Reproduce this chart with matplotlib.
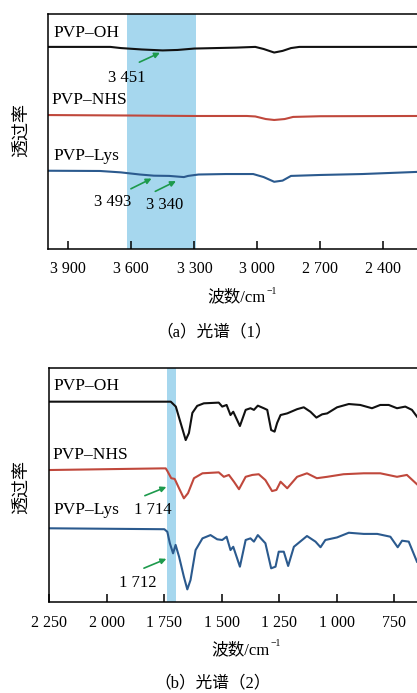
import matplotlib
matplotlib.use("Agg")
import matplotlib.pyplot as plt
from matplotlib.ticker import FuncFormatter

plt.rcParams['font.family'] = ['Liberation Serif', 'Noto Sans CJK SC']

# ---- panel (a): 4000-2240 cm-1 ----
a_oh_x = [4000, 3700, 3650, 3550, 3451, 3380, 3300, 3200, 3100, 3010, 2970, 2920, 2880, 2840, 2800, 2240]
a_oh_y = [86.0, 86.0, 85.5, 84.9, 84.5, 84.7, 85.3, 85.5, 85.7, 86.0, 85.1, 83.6, 84.3, 85.5, 86.0, 86.0]

a_nhs_x = [4000, 3600, 3300, 3050, 3010, 2960, 2920, 2870, 2830, 2700, 2240]
a_nhs_y = [57.0, 56.8, 56.6, 56.6, 56.4, 55.3, 54.9, 55.3, 56.2, 56.5, 56.6]

a_lys_x = [4000, 3750, 3650, 3560, 3493, 3420, 3350, 3330, 3280, 3150, 3020, 2970, 2920, 2880, 2840, 2700, 2500, 2240]
a_lys_y = [33.3, 33.2, 32.6, 31.7, 31.2, 31.1, 30.6, 31.1, 31.7, 31.9, 31.9, 30.6, 28.6, 29.1, 31.1, 31.5, 31.9, 32.8]

a_band = (3620, 3290)
a_ticks = [3900, 3600, 3300, 3000, 2700, 2400]

# ---- panel (b): 2250-650 cm-1 ----
b_oh_x = [2250, 1722, 1700, 1679, 1657, 1643, 1628, 1607, 1578, 1513, 1498, 1479, 1462, 1450, 1421,
          1396, 1375, 1360, 1343, 1317, 1302, 1285, 1270, 1259, 1244, 1215, 1172, 1143, 1114, 1088,
          1063, 1041, 998, 947, 897, 846, 810, 773, 737, 701, 672, 650]
b_oh_y = [85.6, 85.6, 83.5, 76.5, 69.2, 72.2, 80.8, 83.8, 84.9, 85.2, 83.5, 84.2, 79.9, 81.3, 75.2,
          82.1, 82.8, 82.1, 83.9, 82.8, 82.1, 73.5, 72.8, 76.5, 79.9, 80.6, 82.4, 83.2, 81.3, 78.8,
          80.2, 80.6, 83.2, 84.6, 84.2, 82.8, 84.2, 84.2, 82.8, 83.5, 82.1, 79.2]

b_nhs_x = [2250, 1760, 1744, 1737, 1720, 1705, 1686, 1665, 1647, 1621, 1584, 1513, 1491, 1469, 1447,
           1425, 1396, 1367, 1339, 1310, 1281, 1262, 1244, 1215, 1172, 1129, 1086, 1041, 970, 882,
           810, 737, 694, 650]
b_nhs_y = [56.4, 57.1, 57.1, 56.0, 52.9, 52.6, 48.6, 44.3, 46.5, 52.9, 55.0, 55.4, 53.5, 54.3, 51.4,
           48.2, 53.5, 54.3, 54.6, 52.1, 47.4, 47.9, 51.4, 48.6, 53.5, 55.0, 52.9, 53.5, 54.6, 55.0,
           55.0, 53.5, 54.3, 50.3]

b_lys_x = [2250, 1750, 1737, 1726, 1712, 1701, 1686, 1665, 1650, 1636, 1614, 1584, 1549, 1520, 1498,
           1479, 1462, 1450, 1421, 1396, 1375, 1360, 1343, 1310, 1285, 1266, 1252, 1230, 1211, 1186,
           1129, 1092, 1070, 1049, 998, 947, 882, 823, 766, 734, 715, 686, 650]
b_lys_y = [31.5, 31.1, 30.0, 25.1, 20.8, 24.4, 19.4, 10.8, 5.4, 9.4, 22.2, 27.2, 28.6, 26.8, 26.5,
           27.9, 22.2, 23.6, 15.1, 26.5, 27.2, 25.8, 28.6, 25.1, 14.4, 15.1, 21.5, 21.5, 15.4, 23.6,
           28.2, 25.8, 23.4, 26.5, 27.6, 29.6, 29.1, 29.1, 27.9, 23.4, 26.2, 25.8, 17.2]

b_band = (1740, 1698)
b_ticks = [2250, 2000, 1750, 1500, 1250, 1000, 750]

names = ['PVP\u2013OH', 'PVP\u2013NHS', 'PVP\u2013Lys']
colors = ['#111111', '#c0483c', '#2b5a8e']
band_color = '#a6d7ee'
arrow_color = '#1d9a4c'


def thousands(v, pos):
    s = str(int(round(v)))
    if len(s) > 3:
        s = s[:-3] + ' ' + s[-3:]
    return s


fig = plt.figure(figsize=(4.17, 6.93), dpi=100)

ax1 = fig.add_axes([0.1151, 0.6407, 0.8849, 0.3391])
ax2 = fig.add_axes([0.1187, 0.1313, 0.8813, 0.3377])

for ax in (ax1, ax2):
    ax.spines['right'].set_visible(False)
    for s in ('left', 'bottom', 'top'):
        ax.spines[s].set_linewidth(1.1)
    ax.set_yticks([])
    ax.set_ylim(0, 100)
    ax.tick_params(axis='x', direction='in', length=6, width=1.1, labelsize=11.5, pad=9)
    ax.xaxis.set_major_formatter(FuncFormatter(thousands))

# panel a
ax1.axvspan(a_band[0], a_band[1], color=band_color, lw=0)
ax1.plot(a_oh_x, a_oh_y, color=colors[0], lw=1.5)
ax1.plot(a_nhs_x, a_nhs_y, color=colors[1], lw=1.5)
ax1.plot(a_lys_x, a_lys_y, color=colors[2], lw=1.5)
ax1.set_xlim(3997, 2240)
ax1.set_xticks(a_ticks)
ax1.text(3973, 91.9, names[0], fontsize=12.5, va='center', ha='left')
ax1.text(3982, 63.4, names[1], fontsize=12.5, va='center', ha='left')
ax1.text(3973, 39.6, names[2], fontsize=12.5, va='center', ha='left')

arr = dict(arrowstyle='-|>', color=arrow_color, lw=1.2, mutation_scale=8)
ax1.annotate('', xy=(3452, 84.0), xytext=(3574, 79.0), arrowprops=arr)
ax1.text(3620, 72.8, '3 451', fontsize=12, ha='center', va='center')
ax1.annotate('', xy=(3492, 30.5), xytext=(3614, 25.1), arrowprops=arr)
ax1.text(3687, 20.0, '3 493', fontsize=12, ha='center', va='center')
ax1.annotate('', xy=(3376, 29.4), xytext=(3498, 24.0), arrowprops=arr)
ax1.text(3444, 18.7, '3 340', fontsize=12, ha='center', va='center')

# panel b
ax2.axvspan(b_band[0], b_band[1], color=band_color, lw=0)
ax2.plot(b_oh_x, b_oh_y, color=colors[0], lw=1.5)
ax2.plot(b_nhs_x, b_nhs_y, color=colors[1], lw=1.5)
ax2.plot(b_lys_x, b_lys_y, color=colors[2], lw=1.5)
ax2.set_xlim(2250, 650)
ax2.set_xticks(b_ticks)
ax2.text(2231, 92.3, names[0], fontsize=12.5, va='center', ha='left')
ax2.text(2236, 62.8, names[1], fontsize=12.5, va='center', ha='left')
ax2.text(2231, 39.3, names[2], fontsize=12.5, va='center', ha='left')

ax2.annotate('', xy=(1730, 49.6), xytext=(1846, 45.0), arrowprops=arr)
ax2.text(1801, 39.3, '1 714', fontsize=12, ha='center', va='center')
ax2.annotate('', xy=(1730, 18.9), xytext=(1850, 14.0), arrowprops=arr)
ax2.text(1866, 8.1, '1 712', fontsize=12, ha='center', va='center')

# axis titles and captions
W, H = 417.0, 693.0
for yc in (130, 487):
    fig.text(22 / W, 1 - yc / H, '透过率', rotation=90, fontsize=13, ha='center', va='center',
             family=['Noto Sans CJK SC'])
for xr, yc in ((266, 297), (270, 650)):
    fig.text(xr / W, 1 - yc / H, '波数/cm', fontsize=12, ha='right', va='center')
    fig.text((xr + 0.5) / W, 1 - (yc - 6) / H, '\u2212' + '1', fontsize=7, ha='left', va='center')
fig.text(214 / W, 1 - 332 / H, '（a）光谱（1）', fontsize=12, ha='center', va='center')
fig.text(213 / W, 1 - 683 / H, '（b）光谱（2）', fontsize=12, ha='center', va='center')

fig.savefig('out.png', dpi=100)
